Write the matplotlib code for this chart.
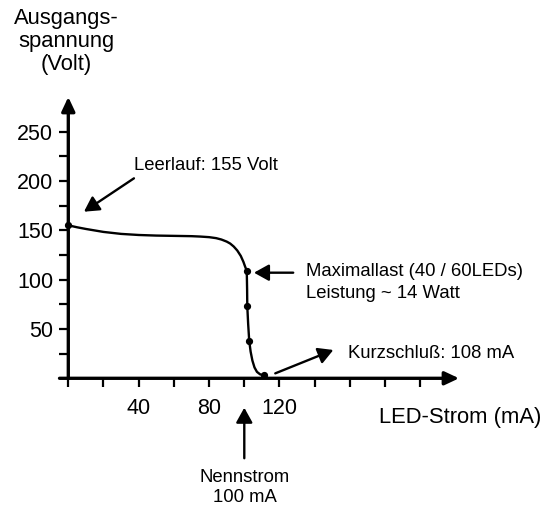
import matplotlib
matplotlib.use("Agg")
import matplotlib.pyplot as plt

plt.rcParams['font.family'] = ['Liberation Sans', 'DejaVu Sans']

# Kennlinie (LED-Strom in mA, Ausgangsspannung in Volt)
strom = [0, 5, 10, 15, 20, 30, 40, 50, 60, 70, 75, 80, 84, 87, 90, 92, 94, 96, 98,
         99.5, 100.5, 101.4, 101.6, 101.7, 102.2, 102.8, 103.6, 104.6, 105.8, 107.2, 109, 111]
spannung = [155, 153, 151.3, 149.8, 148.3, 146.3, 145.2, 144.6, 144.3, 144, 143.6, 143, 142,
            140.6, 138.5, 136.5, 133.5, 129.5, 124, 118, 113, 109, 90, 73, 55, 38, 27, 18,
            11, 6.5, 4, 3]

# markierte Punkte
punkt_strom = [0, 101.4, 101.7, 102.8, 111]
punkt_spannung = [155, 109, 73, 38, 3]

x_ticks = list(range(0, 201, 20))
x_labels = ['', '', '40', '', '80', '', '120', '', '', '', '']
y_ticks = list(range(25, 251, 25))
y_labels = ['' if v % 50 else str(v) for v in y_ticks]

W, H = 552, 505
fig = plt.figure(figsize=(W / 100, H / 100), dpi=100)

x0, x1 = -5, 222
y0, y1 = 0, 285
left_px, right_px = 59.5, 459
top_px, bottom_px = 97, 378.3
ax = fig.add_axes([left_px / W, 1 - bottom_px / H,
                   (right_px - left_px) / W, (bottom_px - top_px) / H])
ax.set_xlim(x0, x1)
ax.set_ylim(y0, y1)

for s in ['top', 'right']:
    ax.spines[s].set_visible(False)
ax.spines['left'].set_position(('data', 0))
ax.spines['bottom'].set_position(('data', 0))
ax.spines['left'].set_visible(False)
ax.spines['bottom'].set_visible(False)

ax.set_xticks(x_ticks)
ax.set_xticklabels(x_labels)
ax.set_yticks(y_ticks)
ax.set_yticklabels(y_labels)
ax.tick_params(axis='both', direction='out', length=6.5, width=1.6, labelsize=15.5)
ax.tick_params(axis='x', pad=8)
ax.tick_params(axis='y', pad=4.3)

# Achsen mit Pfeilspitzen
achse = dict(arrowstyle='-|>,head_length=0.85,head_width=0.4', lw=2.4, color='k',
             shrinkA=0, shrinkB=0)
ax.annotate('', xy=(0, y1), xytext=(0, 0), arrowprops=achse, annotation_clip=False)
ax.annotate('', xy=(x1, 0), xytext=(x0, 0), arrowprops=achse, annotation_clip=False)

ax.plot(strom, spannung, color='k', lw=1.7, clip_on=False,
        solid_capstyle='round', solid_joinstyle='round')
ax.plot(punkt_strom, punkt_spannung, 'o', color='k', ms=4.2, clip_on=False)

pfeil = dict(arrowstyle='-|>,head_length=0.9,head_width=0.5', lw=1.7, color='k',
             shrinkA=0, shrinkB=0)
fs = 13.3

ax.annotate('', xy=(8.9, 168.8), xytext=(37.3, 202.6), arrowprops=pfeil, annotation_clip=False)
ax.text(37.3, 216, 'Leerlauf: 155 Volt', fontsize=fs, va='center', ha='left')

ax.annotate('', xy=(105.5, 107), xytext=(127.8, 107), arrowprops=pfeil, annotation_clip=False)
ax.text(135.2, 108, 'Maximallast (40 / 60LEDs)', fontsize=fs, va='center', ha='left')
ax.text(135.2, 86, 'Leistung ~ 14 Watt', fontsize=fs, va='center', ha='left')

ax.annotate('', xy=(150.6, 28.7), xytext=(117.6, 5), arrowprops=pfeil, annotation_clip=False)
ax.text(159, 25.3, 'Kurzschluß: 108 mA', fontsize=fs, va='center', ha='left')

ax.annotate('', xy=(100, -29.8), xytext=(100, -81), arrowprops=pfeil, annotation_clip=False)
ax.text(100.2, -100, 'Nennstrom', fontsize=fs, va='center', ha='center')
ax.text(100.2, -120.5, '100 mA', fontsize=fs, va='center', ha='center')

fig.text(66 / W, 1 - 8 / H, 'Ausgangs-\nspannung\n(Volt)', fontsize=15.8,
         ha='center', va='top', multialignment='center', linespacing=1.12)
fig.text(379 / W, 1 - 418 / H, 'LED-Strom (mA)', fontsize=15.8, ha='left', va='center')

fig.savefig('out.png', dpi=100)
